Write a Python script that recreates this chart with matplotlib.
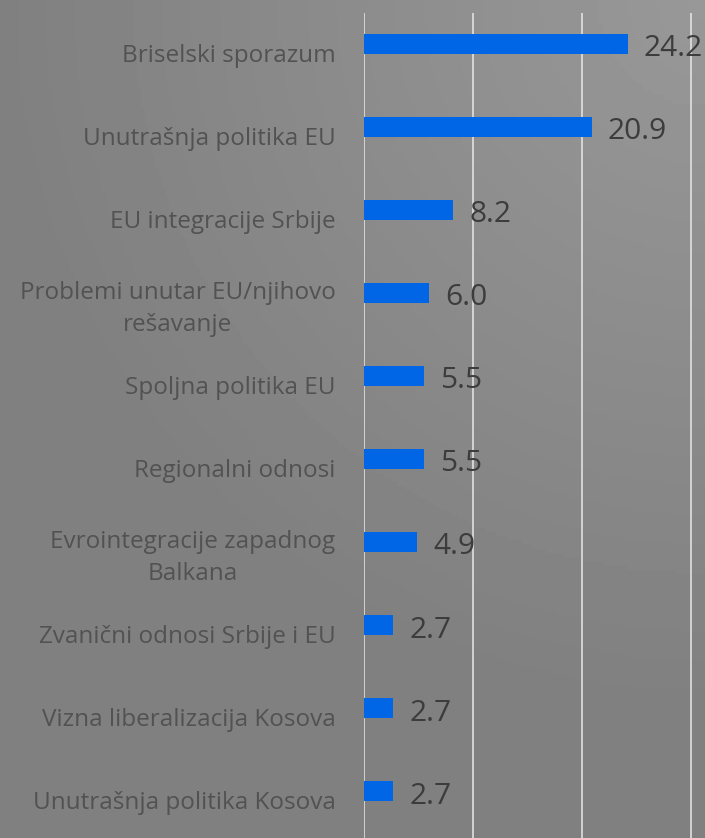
import numpy as np
import matplotlib.pyplot as plt
from matplotlib.transforms import ScaledTranslation

categories = [
    "Briselski sporazum",
    "Unutrašnja politika EU",
    "EU integracije Srbije",
    "Problemi unutar EU/njihovo\nrešavanje",
    "Spoljna politika EU",
    "Regionalni odnosi",
    "Evrointegracije zapadnog\nBalkana",
    "Zvanični odnosi Srbije i EU",
    "Vizna liberalizacija Kosova",
    "Unutrašnja politika Kosova",
]
values = [24.2, 20.9, 8.2, 6.0, 5.5, 5.5, 4.9, 2.7, 2.7, 2.7]

plt.rcParams['font.family'] = ['Open Sans', 'DejaVu Sans']

W, H = 705, 838
fig = plt.figure(figsize=(W / 100, H / 100), dpi=100)

# grey background, brightening toward the top right corner
bg = fig.add_axes([0, 0, 1, 1], zorder=0)
gx, gy = np.meshgrid(np.linspace(0, 1, 200), np.linspace(0, 1, 200))
dist = np.sqrt((1 - gx) ** 2 + ((1 - gy) * H / W) ** 2)
shade = (152 - 24 * np.clip(dist / 1.0, 0, 1)) / 255.0
bg.imshow(shade, cmap='gray', vmin=0, vmax=1, origin='lower',
          extent=[0, 1, 0, 1], aspect='auto')
bg.axis('off')

ax = fig.add_axes([364 / W, 0, 1 - 364 / W, (H - 13) / H], zorder=1)
ax.patch.set_alpha(0)

y = np.arange(len(categories))
ax.barh(y, values, height=0.23, color='#0066e6', zorder=3)

val_shift = ScaledTranslation(0, -0.05, fig.dpi_scale_trans)
for yi, v in zip(y, values):
    ax.text(v + 1.45, yi, f"{v:.1f}", va='center', ha='left',
            fontsize=21.5, color='#3c3c3c',
            transform=ax.transData + val_shift)

ax.set_xlim(0, 31.3)
ax.set_ylim(9.566, -0.373)
ax.set_xticks([0, 10, 20, 30])
ax.xaxis.grid(True, color='#e8e8e8', linewidth=1.1, zorder=0)
ax.tick_params(axis='x', bottom=False, labelbottom=False)
ax.set_yticks(y)
ax.set_yticklabels(categories, fontsize=17.5, color='#525252',
                   multialignment='center', linespacing=1.45)
ax.tick_params(axis='y', left=False, pad=17)
lbl_shift = ScaledTranslation(0, -0.09, fig.dpi_scale_trans)
for lbl in ax.get_yticklabels():
    lbl.set_transform(lbl.get_transform() + lbl_shift)
for s in ax.spines.values():
    s.set_visible(False)

fig.savefig('out.png', dpi=100)
